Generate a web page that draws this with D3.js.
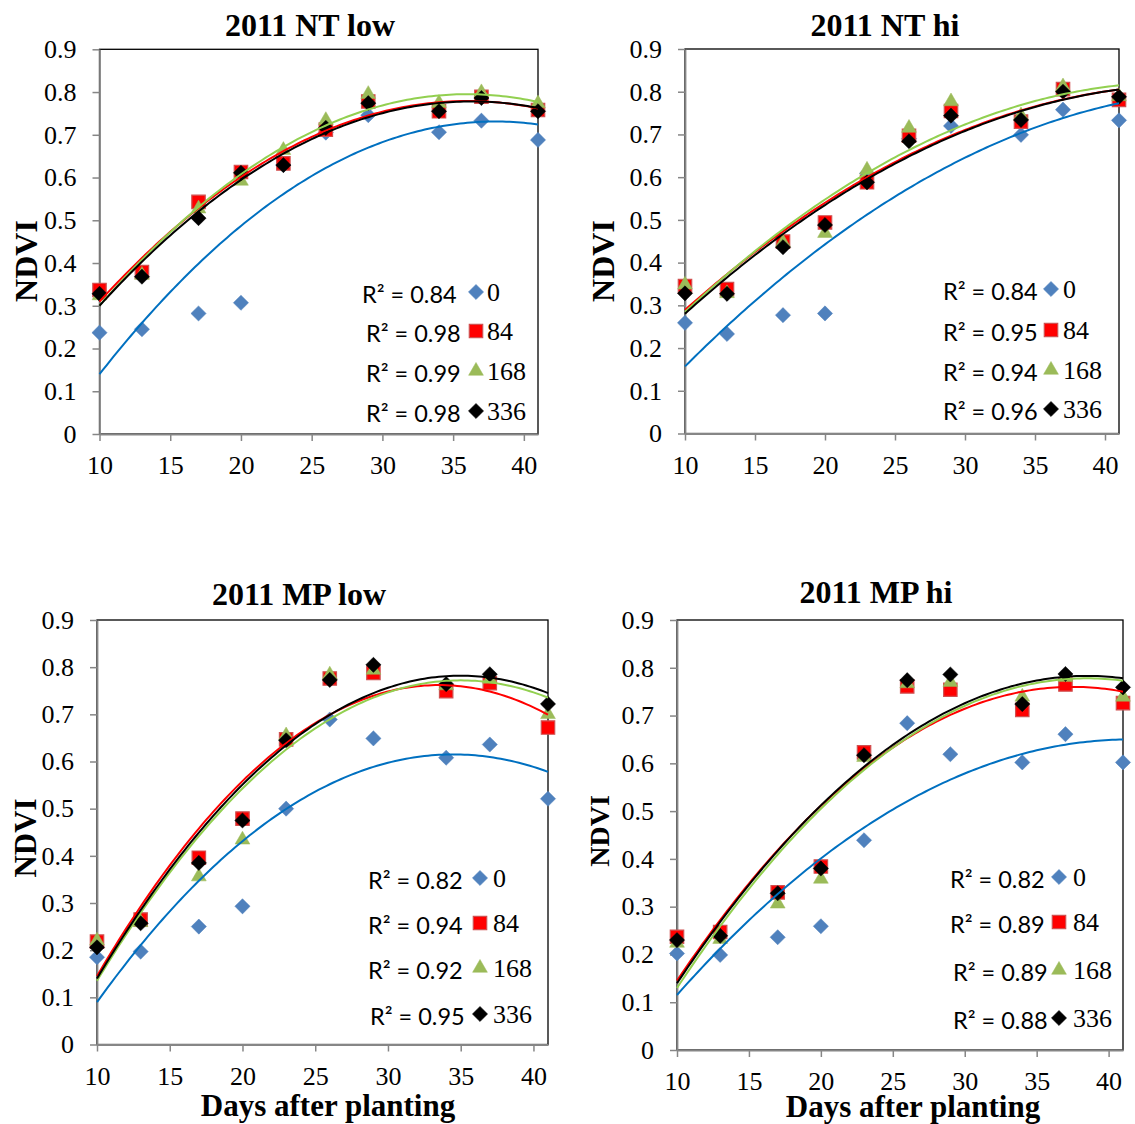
<!DOCTYPE html>
<html>
<head>
<meta charset="utf-8">
<script src="https://cdn.jsdelivr.net/npm/d3@7"></script>
<style>
  body { margin: 0; background: #fff; }
  svg { display: block; }
  .serif { font-family: "Liberation Serif", "Times New Roman", "DejaVu Serif", serif; }
  .sans { font-family: Lato, "Open Sans", sans-serif; }
</style>
</head>
<body>
<script>
// Data --------------------------------------------------------
const days = [10, 13, 17, 20, 23, 26, 29, 34, 37, 41];
const rates = ['0', '84', '168', '336'];
const panelTitles = ['2011 NT low', '2011 NT hi', '2011 MP low', '2011 MP hi'];
const yTicks = [0, 0.1, 0.2, 0.3, 0.4, 0.5, 0.6, 0.7, 0.8, 0.9];
const xTicks = [10, 15, 20, 25, 30, 35, 40];

// NDVI per N rate (0, 84, 168, 336)
const ntLow0   = [0.237, 0.245, 0.282, 0.307, 0.630, 0.705, 0.746, 0.706, 0.733, 0.688];
const ntLow84  = [0.337, 0.379, 0.543, 0.613, 0.633, 0.712, 0.778, 0.755, 0.789, 0.758];
const ntLow168 = [0.324, 0.372, 0.527, 0.592, 0.664, 0.734, 0.795, 0.774, 0.799, 0.773];
const ntLow336 = [0.328, 0.368, 0.505, 0.611, 0.629, 0.716, 0.774, 0.755, 0.786, 0.755];

const ntHi0   = [0.259, 0.233, 0.277, 0.281, 0.609, 0.690, 0.720, 0.699, 0.758, 0.733];
const ntHi84  = [0.345, 0.338, 0.449, 0.494, 0.588, 0.697, 0.755, 0.730, 0.806, 0.781];
const ntHi168 = [0.348, 0.328, 0.447, 0.469, 0.617, 0.715, 0.777, 0.744, 0.812, 0.789];
const ntHi336 = [0.328, 0.327, 0.436, 0.488, 0.588, 0.684, 0.744, 0.734, 0.800, 0.788];

const mpLow0   = [0.185, 0.197, 0.250, 0.293, 0.500, 0.689, 0.649, 0.608, 0.636, 0.521];
const mpLow84  = [0.218, 0.265, 0.396, 0.479, 0.647, 0.776, 0.788, 0.749, 0.766, 0.672];
const mpLow168 = [0.220, 0.259, 0.356, 0.434, 0.655, 0.784, 0.794, 0.761, 0.775, 0.700];
const mpLow336 = [0.206, 0.257, 0.385, 0.475, 0.645, 0.773, 0.805, 0.764, 0.785, 0.722];

const mpHi0   = [0.202, 0.199, 0.236, 0.259, 0.439, 0.684, 0.619, 0.602, 0.661, 0.602];
const mpHi84  = [0.237, 0.247, 0.330, 0.384, 0.623, 0.761, 0.754, 0.712, 0.765, 0.726];
const mpHi168 = [0.224, 0.232, 0.306, 0.358, 0.613, 0.767, 0.770, 0.739, 0.780, 0.739];
const mpHi336 = [0.230, 0.239, 0.328, 0.380, 0.617, 0.774, 0.786, 0.724, 0.787, 0.759];

const ntLowR2 = ['0.84', '0.98', '0.99', '0.98'];
const ntHiR2  = ['0.84', '0.95', '0.94', '0.96'];
const mpLowR2 = ['0.82', '0.94', '0.92', '0.95'];
const mpHiR2  = ['0.82', '0.89', '0.89', '0.88'];

// 2nd order trendlines, vertex form: [peak day, peak NDVI, curvature]
const ntLowFit = [[38.0, 0.731, -0.000754], [36.0, 0.779, -0.000694], [36.0, 0.795, -0.000732], [36.3, 0.778, -0.000691]];
const ntHiFit  = [[49.5, 0.803, -0.000414], [46.2, 0.816, -0.000402], [45.0, 0.822, -0.000439], [46.4, 0.817, -0.000405]];
const mpLowFit = [[34.5, 0.615, -0.000875], [33.5, 0.762, -0.001117], [35.0, 0.772, -0.001019], [35.0, 0.782, -0.001027]];
const mpHiFit  = [[41.5, 0.650, -0.000539], [37.5, 0.760, -0.000813], [38.5, 0.778, -0.000798], [38.5, 0.783, -0.000792]];

// Styles -------------------------------------------------------
const markerFill   = ['#4f81bd', '#ff0000', '#9bbb59', '#000000'];
const markerStroke = ['#4f81bd', '#d05050', '#9bbb59', '#000000'];
const lineColor    = ['#0070c0', '#ff0000', '#92d050', '#000000'];

// Layout of each panel (pixel boxes of the plot areas etc.)
const panels = [
  { series: [ntLow0, ntLow84, ntLow168, ntLow336], r2: ntLowR2, fit: ntLowFit,
    box: {left: 99.5, right: 538, top: 49.3, bottom: 434},
    title: {x: 310, y: 36}, ndvi: {x: 37, y: 261, size: 32}, xlab: null,
    legend: {textX: [362, 366, 366, 366], rowY: [295, 334, 374, 414], markerX: 476, labelX: 487} },
  { series: [ntHi0, ntHi84, ntHi168, ntHi336], r2: ntHiR2, fit: ntHiFit,
    box: {left: 685, right: 1119, top: 49, bottom: 433.5},
    title: {x: 885, y: 36}, ndvi: {x: 614, y: 261, size: 32}, xlab: null,
    legend: {textX: [943, 943, 943, 943], rowY: [292, 333, 373, 412], markerX: 1051, labelX: 1063} },
  { series: [mpLow0, mpLow84, mpLow168, mpLow336], r2: mpLowR2, fit: mpLowFit,
    box: {left: 97, right: 548, top: 620, bottom: 1044.5},
    title: {x: 299, y: 605}, ndvi: {x: 36, y: 838, size: 31}, xlab: {x: 328, y: 1116},
    legend: {textX: [368, 368, 368, 370], rowY: [881, 926, 971, 1017], markerX: 480, labelX: 493} },
  { series: [mpHi0, mpHi84, mpHi168, mpHi336], r2: mpHiR2, fit: mpHiFit,
    box: {left: 677, right: 1123, top: 620, bottom: 1050},
    title: {x: 876, y: 603}, ndvi: {x: 609, y: 831, size: 28}, xlab: {x: 913, y: 1117},
    legend: {textX: [950, 950, 953, 953], rowY: [880, 925, 973, 1021], markerX: 1059, labelX: 1073} }
];

const svg = d3.select('body').append('svg')
  .attr('width', 1135)
  .attr('height', 1124);

// marker shapes: diamond, square, triangle, diamond
const symbolFor = i => {
  if (i === 1) return d3.symbol(d3.symbolSquare, 180)();
  if (i === 2) return d3.symbol(d3.symbolTriangle, 95)();
  return d3.symbol(d3.symbolSquare, 115)();
};
const rotFor = i => (i === 0 || i === 3) ? ' rotate(45)' : '';

const drawMarker = (g, i, cx, cy) => {
  g.append('path')
    .attr('d', symbolFor(i))
    .attr('transform', `translate(${cx},${cy})${rotFor(i)}`)
    .attr('fill', markerFill[i])
    .attr('stroke', markerStroke[i])
    .attr('stroke-width', i === 1 ? 1.2 : 0.5);
};

panels.forEach((p, pi) => {
  const b = p.box;
  const x = d3.scaleLinear().domain([10, 41]).range([b.left, b.right]);
  const y = d3.scaleLinear().domain([0, 0.9]).range([b.bottom, b.top]);
  const g = svg.append('g').attr('class', 'panel');

  // plot frame
  g.append('rect')
    .attr('x', b.left).attr('y', b.top)
    .attr('width', b.right - b.left).attr('height', b.bottom - b.top)
    .attr('fill', 'none').attr('stroke', '#000').attr('stroke-width', 1.3);

  // axes
  const yAxis = g.append('g')
    .attr('transform', `translate(${b.left},0)`)
    .call(d3.axisLeft(y).tickValues(yTicks).tickSize(7).tickSizeOuter(0).tickPadding(16)
      .tickFormat(d => d === 0 ? '0' : d3.format('.1f')(d)));
  const xAxis = g.append('g')
    .attr('transform', `translate(0,${b.bottom})`)
    .call(d3.axisBottom(x).tickValues(xTicks).tickSize(7).tickSizeOuter(0).tickPadding(15)
      .tickFormat(d3.format('d')));
  [yAxis, xAxis].forEach(ax => {
    ax.attr('font-family', null).attr('font-size', null);
    ax.select('.domain').attr('stroke', '#868686').attr('stroke-width', 1.8);
    ax.selectAll('.tick line').attr('stroke', '#868686').attr('stroke-width', 1.5);
    ax.selectAll('.tick text').attr('fill', '#000').attr('class', 'serif')
      .style('font-size', '26px');
  });

  // data markers
  p.series.forEach((vals, si) => {
    vals.forEach((v, k) => drawMarker(g, si, x(days[k]), y(v)));
  });

  // trendlines
  const line = d3.line().x(d => x(d[0])).y(d => y(d[1]));
  p.fit.forEach((f, si) => {
    const pts = d3.range(10, 41.001, 0.25).map(t => [t, f[1] + f[2] * (t - f[0]) * (t - f[0])]);
    g.append('path')
      .attr('d', line(pts))
      .attr('fill', 'none')
      .attr('stroke', lineColor[si])
      .attr('stroke-width', 2);
  });

  // legend with R2 values
  const L = p.legend;
  rates.forEach((r, si) => {
    const cy = L.rowY[si];
    g.append('text')
      .attr('class', 'sans')
      .attr('x', L.textX[si]).attr('y', cy + 8)
      .style('font-size', '23.5px')
      .text(`R² = ${p.r2[si]}`);
    drawMarker(g, si, L.markerX, cy - 3);
    g.append('text')
      .attr('class', 'serif')
      .attr('x', L.labelX).attr('y', cy + 6)
      .style('font-size', '26px')
      .text(r);
  });

  // titles
  g.append('text')
    .attr('class', 'serif')
    .attr('x', p.title.x).attr('y', p.title.y)
    .attr('text-anchor', 'middle')
    .style('font-size', '32px').style('font-weight', 'bold')
    .text(panelTitles[pi]);

  g.append('text')
    .attr('class', 'serif')
    .attr('transform', `translate(${p.ndvi.x},${p.ndvi.y}) rotate(-90)`)
    .attr('text-anchor', 'middle')
    .style('font-size', p.ndvi.size + 'px').style('font-weight', 'bold')
    .text('NDVI');

  if (p.xlab) {
    g.append('text')
      .attr('class', 'serif')
      .attr('x', p.xlab.x).attr('y', p.xlab.y)
      .attr('text-anchor', 'middle')
      .style('font-size', '31px').style('font-weight', 'bold')
      .text('Days after planting');
  }
});
</script>
</body>
</html>
